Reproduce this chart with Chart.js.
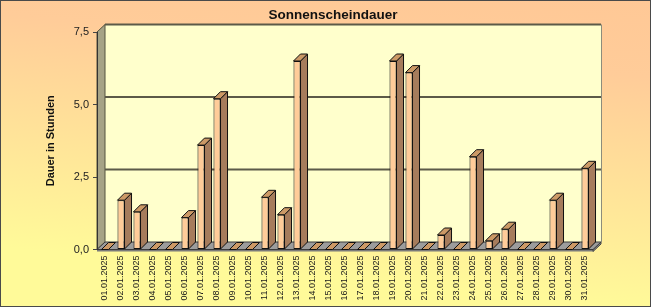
<!DOCTYPE html>
<html><head><meta charset="utf-8">
<script src="https://cdn.jsdelivr.net/npm/chart.js@4/dist/chart.umd.min.js"></script>
<style>html,body{margin:0;padding:0;background:#fff;overflow:hidden}canvas{display:block}</style>
</head><body>
<canvas id="c" width="651" height="307"></canvas>
<script>
const categories = ['01.01.2025','02.01.2025','03.01.2025','04.01.2025','05.01.2025','06.01.2025','07.01.2025','08.01.2025','09.01.2025','10.01.2025','11.01.2025','12.01.2025','13.01.2025','14.01.2025','15.01.2025','16.01.2025','17.01.2025','18.01.2025','19.01.2025','20.01.2025','21.01.2025','22.01.2025','23.01.2025','24.01.2025','25.01.2025','26.01.2025','27.01.2025','28.01.2025','29.01.2025','30.01.2025','31.01.2025'];
const sunshineHours = [0, 1.7, 1.3, 0, 0, 1.1, 3.6, 5.2, 0, 0, 1.8, 1.2, 6.5, 0, 0, 0, 0, 0, 6.5, 6.1, 0, 0.5, 0, 3.2, 0.3, 0.7, 0, 0, 1.7, 0, 2.8];
const yTickValues = [0, 2.5, 5, 7.5];
const yTickLabels = ['0,0', '2,5', '5,0', '7,5'];
const chartTitle = 'Sonnenscheindauer';
const yAxisTitle = 'Dauer in Stunden';

const FONT = 'Arial, "Liberation Sans", sans-serif';
const WALL = {dx: 8, dy: -7.5};
const BAR = {dx: 7, dy: -7};

function poly(ctx, pts, fill, stroke, lw) {
  ctx.beginPath();
  ctx.moveTo(pts[0][0], pts[0][1]);
  for (let i = 1; i < pts.length; i++) ctx.lineTo(pts[i][0], pts[i][1]);
  ctx.closePath();
  if (fill) { ctx.fillStyle = fill; ctx.fill(); }
  if (stroke) { ctx.strokeStyle = stroke; ctx.lineWidth = lw || 1; ctx.stroke(); }
}

const depthPlugin = {
  id: 'depth',
  beforeDraw(chart) {
    const ctx = chart.ctx;
    const W = chart.width, H = chart.height;
    const {left, right, top, bottom} = chart.chartArea;
    ctx.save();
    const g = ctx.createLinearGradient(W, 0, W - 30, H);
    g.addColorStop(0, '#FFC896');
    g.addColorStop(0.25, '#FFCC99');
    g.addColorStop(1, '#FFFA99');
    ctx.fillStyle = g;
    ctx.fillRect(0, 0, W, H);
    ctx.strokeStyle = '#4a4a4a';
    ctx.lineWidth = 1;
    ctx.strokeRect(0.5, 0.5, W - 1, H - 1);

    const dx = WALL.dx, dy = WALL.dy;
    // back wall
    poly(ctx, [[left + dx, top + dy], [right + dx, top + dy], [right + dx, bottom + dy], [left + dx, bottom + dy]], '#FFFFCC', null);
    // left wall
    poly(ctx, [[left, top], [left + dx, top + dy], [left + dx, bottom + dy], [left, bottom]], '#A6A386', '#55533f', 1);
    // floor slab front
    poly(ctx, [[left, bottom], [right, bottom], [right, bottom + 2], [left, bottom + 2]], '#7a7a7a', null);
    poly(ctx, [[right, bottom], [right + dx, bottom + dy], [right + dx, bottom + dy + 2], [right, bottom + 2]], '#8a8a8a', '#444', 1);
    // floor
    poly(ctx, [[left, bottom], [right, bottom], [right + dx, bottom + dy], [left + dx, bottom + dy]], '#9C9C9C', '#3c3c3c', 1);
    // gridlines on back wall
    const ys = chart.scales.y;
    ctx.strokeStyle = '#5C5A48';
    ctx.lineWidth = 2;
    yTickValues.forEach(v => {
      if (v === 0) return;
      const y = ys.getPixelForValue(v) + dy;
      ctx.beginPath();
      ctx.moveTo(left + dx, y);
      ctx.lineTo(right + dx, y);
      ctx.stroke();
    });
    // right edge of back wall
    ctx.strokeStyle = '#8c8c7c';
    ctx.lineWidth = 1;
    ctx.beginPath();
    ctx.moveTo(right + dx + 0.5, top + dy);
    ctx.lineTo(right + dx + 0.5, bottom + dy);
    ctx.stroke();
    ctx.restore();
  },
  beforeDatasetsDraw(chart) {
    const ctx = chart.ctx;
    const meta = chart.getDatasetMeta(0);
    ctx.save();
    meta.data.forEach(el => {
      const p = el.getProps(['x', 'y', 'base', 'width'], true);
      const l = p.x - p.width / 2, r = p.x + p.width / 2;
      const t = Math.min(p.y, p.base), b = Math.max(p.y, p.base);
      // side face
      if (b - t > 0.5) {
        poly(ctx, [[r, t], [r + BAR.dx, t + BAR.dy], [r + BAR.dx, b + BAR.dy], [r, b]], '#A67C5C', '#111', 1);
      }
      // top face
      poly(ctx, [[l, t], [l + BAR.dx, t + BAR.dy], [r + BAR.dx, t + BAR.dy], [r, t]], '#CC9966', '#111', 1);
    });
    ctx.restore();
  }
};

new Chart(document.getElementById('c'), {
  type: 'bar',
  data: {
    labels: categories,
    datasets: [{
      data: sunshineHours,
      backgroundColor: '#FFCC99',
      borderColor: '#111',
      borderWidth: 1,
      borderSkipped: false,
      categoryPercentage: 1,
      barPercentage: 0.44
    }]
  },
  options: {
    responsive: false,
    animation: false,
    devicePixelRatio: 1,
    layout: {padding: {left: 73, right: 58, top: 0, bottom: 0}},
    plugins: {
      legend: {display: false},
      tooltip: {enabled: false},
      title: {
        display: true,
        text: chartTitle,
        color: '#111',
        font: {family: FONT, size: 13.5, weight: 'bold', lineHeight: 1.2},
        padding: {top: 7, bottom: 8.8}
      }
    },
    scales: {
      x: {
        grid: {display: false, drawTicks: false},
        border: {display: false},
        afterFit(s) { s.height = 57.5; },
        ticks: {
          autoSkip: false,
          minRotation: 90,
          maxRotation: 90,
          padding: 6,
          color: '#1a1a1a',
          font: {family: FONT, size: 9}
        }
      },
      y: {
        min: 0,
        max: 7.5,
        afterFit(s) { s.width = 24; },
        afterBuildTicks(s) { s.ticks = yTickValues.map(v => ({value: v})); },
        grid: {drawOnChartArea: false, drawTicks: true, tickLength: 4, color: '#444'},
        border: {display: true, color: '#333', width: 1},
        ticks: {
          padding: 4,
          color: '#222',
          font: {family: FONT, size: 11},
          callback: (v) => yTickLabels[yTickValues.indexOf(v)]
        },
        title: {
          display: true,
          text: yAxisTitle,
          color: '#111',
          font: {family: FONT, size: 11, weight: 'bold', lineHeight: 1.2},
          padding: {top: -28.6, bottom: 0}
        }
      }
    }
  },
  plugins: [depthPlugin]
});
</script>
</body></html>
